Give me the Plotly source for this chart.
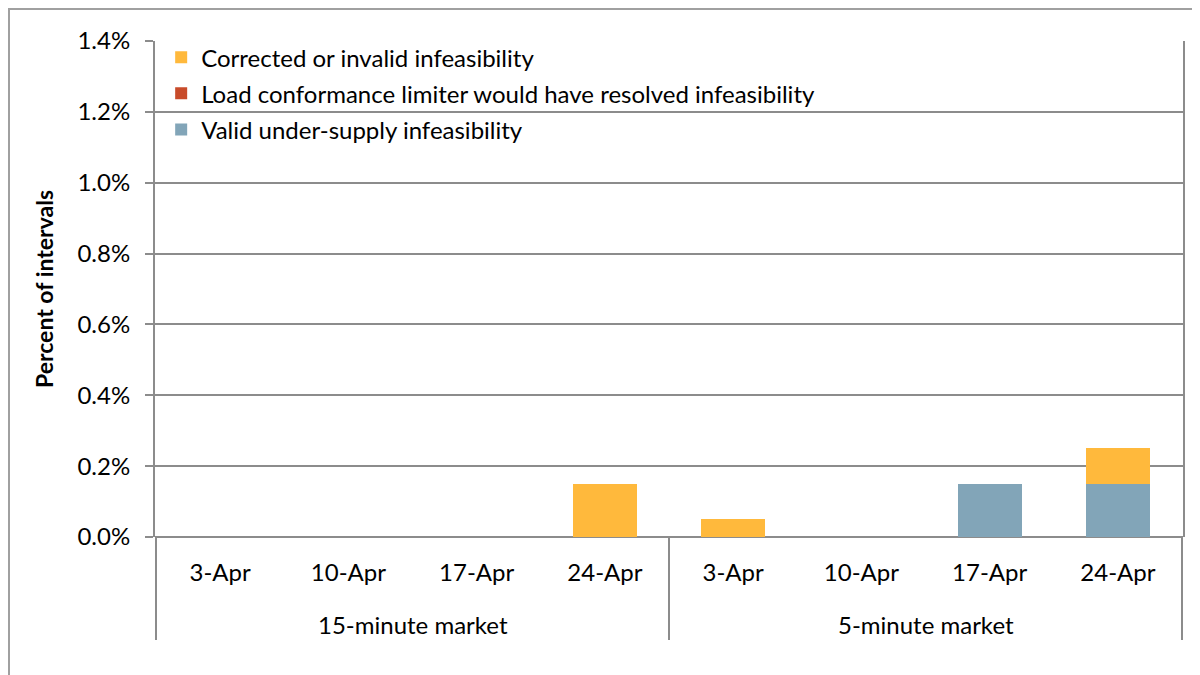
import plotly.graph_objects as go

groups = ["15-minute market"] * 4 + ["5-minute market"] * 4
dates = ["3-Apr", "10-Apr", "17-Apr", "24-Apr"] * 2

valid = [0, 0, 0, 0, 0, 0, 0.0015, 0.0015]
load_conf = [0, 0, 0, 0, 0, 0, 0, 0]
corrected = [0, 0, 0, 0.0015, 0.0005, 0, 0, 0.0010]

names = ["Valid under-supply infeasibility",
         "Load conformance limiter would have resolved infeasibility",
         "Corrected or invalid infeasibility"]
colors = ["#82A5B8", "#C84B2A", "#FFB93C"]
legend_ranks = [3000, 2000, 1000]

keys = [f"{g} {d}" for g, d in zip(groups, dates)]

FONT = "Lato"
FS = 24
fig = go.Figure()
for nm, vals, col, rk in zip(names, [valid, load_conf, corrected], colors, legend_ranks):
    fig.add_trace(go.Bar(x=keys, y=vals, name=nm, marker_color=col,
                         marker_line_width=0, legendgroup=nm, legendrank=rk))

grid = "#8C8C8C"
L, R, T, B = 147, 25, 33, 146
W, H = 1200, 675
pw, ph = W - L - R, H - T - B
fig.update_layout(
    width=W, height=H,
    barmode="stack", bargap=0.5,
    plot_bgcolor="white", paper_bgcolor="white",
    margin=dict(l=L, r=R, t=T, b=B, autoexpand=False),
    font=dict(family=FONT, size=FS, color="black"),
    legend=dict(x=0.006, y=1.012, xanchor="left", yanchor="top", traceorder="grouped",
                bgcolor="rgba(0,0,0,0)", font=dict(size=FS), tracegroupgap=2),
    xaxis=dict(type="category", showgrid=False, showline=False,
               tickvals=keys, ticktext=dates, ticks="",
               ticklabelstandoff=19,
               tickfont=dict(size=FS)),
    yaxis=dict(range=[0, 0.014], dtick=0.002, tickformat=".1%",
               showgrid=True, gridcolor=grid, gridwidth=2,
               zeroline=True, zerolinecolor=grid, zerolinewidth=2,
               showline=True, linecolor=grid, linewidth=2, mirror=True,
               ticks="outside", ticklen=8, tickcolor=grid, tickwidth=2,
               ticklabelstandoff=10,
               tickfont=dict(size=FS),
               title=dict(text="<b>Percent of intervals</b>", font=dict(size=23), standoff=17)),
)

# group labels and group dividers below the category axis
ordered_groups = list(dict.fromkeys(groups))
div_len = 103 / ph
start = 0
bounds = [-0.5]
for g in ordered_groups:
    n = groups.count(g)
    fig.add_annotation(x=start + (n - 1) / 2, y=-87 / ph, xref="x", yref="paper",
                       text=g, showarrow=False, font=dict(size=FS), yanchor="middle")
    start += n
    bounds.append(start - 0.5)
for b in bounds:
    fig.add_shape(type="line", xref="x", yref="paper", x0=b, x1=b, y0=0, y1=-div_len,
                  line=dict(color=grid, width=2))

# outer frame lines (decorative)
fig.add_shape(type="line", xref="paper", yref="paper", x0=-L / pw, x1=(W - L) / pw,
              y0=1 + (T - 1) / ph, y1=1 + (T - 1) / ph, line=dict(color="#A0A0A0", width=2))
fig.add_shape(type="line", xref="paper", yref="paper", x0=-(L - 1) / pw, x1=-(L - 1) / pw,
              y0=1 + T / ph, y1=-B / ph, line=dict(color="#A0A0A0", width=2))

fig.write_html("out.html")
